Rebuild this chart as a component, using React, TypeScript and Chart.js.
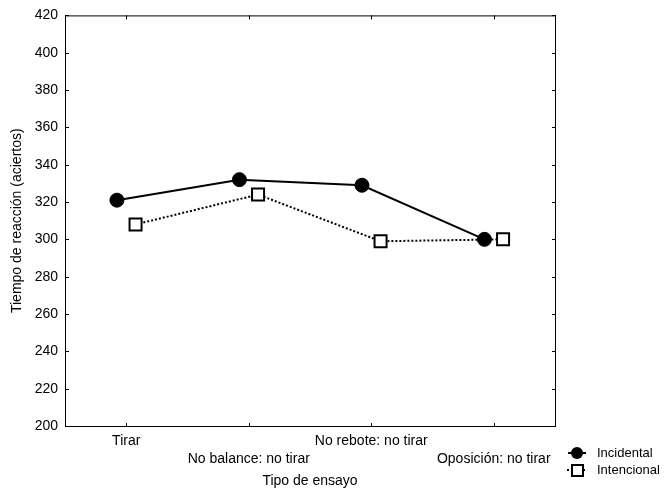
import React, { useEffect, useRef } from "react";
import { Chart, registerables } from "chart.js";

Chart.register(...registerables);

const CATEGORIES = ["Tirar", "No balance: no tirar", "No rebote: no tirar", "Oposición: no tirar"];
const INCIDENTAL = [321, 332, 329, 300];
const INTENCIONAL = [308, 324, 299, 300];
const Y_MIN = 200;
const Y_MAX = 420;
const Y_STEP = 20;
const SERIES_NAMES = ["Incidental", "Intencional"];
const X_TITLE = "Tipo de ensayo";
const Y_TITLE = "Tiempo de reacción (aciertos)";
const DODGE = 0.076;

const FONT_FAMILY = '"Liberation Sans", Arial, Helvetica, sans-serif';
const INK = "#000";

const boxPlugin = {
  id: "boxTicks",
  beforeDatasetsDraw(chart: any) {
    const { ctx, chartArea: a, scales } = chart;
    ctx.save();
    ctx.strokeStyle = INK;
    ctx.lineWidth = 1;
    ctx.strokeRect(a.left + 0.5, a.top + 0.5, a.right - a.left, a.bottom - a.top);
    const TL = 4;
    ctx.beginPath();
    scales.y.ticks.forEach((t: any) => {
      const y = Math.round(scales.y.getPixelForValue(t.value)) + 0.5;
      ctx.moveTo(a.left, y);
      ctx.lineTo(a.left + TL, y);
      ctx.moveTo(a.right + 1, y);
      ctx.lineTo(a.right + 1 - TL, y);
    });
    scales.x.ticks.forEach((t: any) => {
      const x = Math.round(scales.x.getPixelForValue(t.value)) + 0.5;
      ctx.moveTo(x, a.bottom + 1);
      ctx.lineTo(x, a.bottom + 1 - TL);
      ctx.moveTo(x, a.top);
      ctx.lineTo(x, a.top + TL);
    });
    ctx.stroke();
    ctx.restore();
  },
  afterDraw(chart: any) {
    const { ctx, chartArea: a } = chart;
    ctx.save();
    const mx = a.right + 22;
    const y1 = a.bottom + 27;
    const y2 = a.bottom + 44;
    const tx = a.right + 42;
    // Incidental
    ctx.strokeStyle = INK;
    ctx.lineWidth = 2;
    ctx.beginPath();
    ctx.moveTo(mx - 9, y1);
    ctx.lineTo(mx + 9, y1);
    ctx.stroke();
    ctx.fillStyle = INK;
    ctx.beginPath();
    ctx.arc(mx, y1, 6, 0, Math.PI * 2);
    ctx.fill();
    // Intencional
    ctx.setLineDash([2, 2]);
    ctx.beginPath();
    ctx.moveTo(mx - 10, y2);
    ctx.lineTo(mx + 10, y2);
    ctx.stroke();
    ctx.setLineDash([]);
    ctx.fillStyle = "#fff";
    ctx.fillRect(mx - 5, y2 - 5, 11, 11);
    ctx.strokeRect(mx - 5, y2 - 5, 11, 11);
    ctx.fillStyle = INK;
    ctx.font = `13px ${FONT_FAMILY}`;
    ctx.textBaseline = "middle";
    ctx.textAlign = "left";
    ctx.fillText(SERIES_NAMES[0], tx, y1);
    ctx.fillText(SERIES_NAMES[1], tx, y2);
    ctx.restore();
  },
};

export default function App() {
  const ref = useRef<HTMLCanvasElement | null>(null);

  useEffect(() => {
    document.body.style.margin = "0";
    const canvas = ref.current;
    if (!canvas) return;
    const chart = new Chart(canvas, {
      type: "line",
      data: {
        datasets: [
          {
            label: SERIES_NAMES[0],
            data: INCIDENTAL.map((v, i) => ({ x: i + 1 - DODGE, y: v })),
            borderColor: INK,
            backgroundColor: INK,
            borderWidth: 2,
            pointStyle: "circle",
            pointRadius: 7,
            pointBackgroundColor: INK,
            pointBorderColor: INK,
            pointBorderWidth: 1,
            tension: 0,
            order: 1,
          },
          {
            label: SERIES_NAMES[1],
            data: INTENCIONAL.map((v, i) => ({ x: i + 1 + DODGE, y: v })),
            borderColor: INK,
            backgroundColor: "#fff",
            borderWidth: 2,
            borderDash: [2, 2],
            pointStyle: "rect",
            pointRadius: 8.5,
            pointBackgroundColor: "#fff",
            pointBorderColor: INK,
            pointBorderWidth: 2,
            tension: 0,
            order: 0,
          },
        ],
      },
      options: {
        responsive: false,
        animation: false,
        devicePixelRatio: 1,
        layout: { padding: { top: 14, right: 109, left: 0, bottom: 0 } },
        plugins: {
          legend: { display: false },
          tooltip: { enabled: false },
        },
        scales: {
          x: {
            type: "linear",
            min: 0.5,
            max: CATEGORIES.length + 0.5,
            grid: { display: false, drawTicks: false },
            border: { display: false },
            afterBuildTicks: (scale: any) => {
              scale.ticks = CATEGORIES.map((_, i) => ({ value: i + 1 }));
            },
            afterFit: (scale: any) => {
              scale.height = 67;
            },
            ticks: {
              autoSkip: false,
              maxRotation: 0,
              minRotation: 0,
              padding: 6,
              color: INK,
              font: { family: FONT_FAMILY, size: 14, lineHeight: "18px" },
              callback: (value: any, index: number) => {
                const label = CATEGORIES[Math.round(Number(value)) - 1] ?? "";
                return index % 2 === 0 ? [label, ""] : ["", label];
              },
            },
            title: {
              display: true,
              text: X_TITLE,
              color: INK,
              font: { family: FONT_FAMILY, size: 14 },
              padding: { top: 0, bottom: 3 },
            },
          },
          y: {
            min: Y_MIN,
            max: Y_MAX,
            grid: { display: false, drawTicks: false },
            border: { display: false },
            afterFit: (scale: any) => {
              scale.width = 65;
            },
            ticks: {
              stepSize: Y_STEP,
              padding: 7,
              color: INK,
              font: { family: FONT_FAMILY, size: 14 },
            },
            title: {
              display: true,
              text: Y_TITLE,
              color: INK,
              font: { family: FONT_FAMILY, size: 14 },
              padding: { top: 9, bottom: 0 },
            },
          },
        },
      },
      plugins: [boxPlugin],
    } as any);
    return () => chart.destroy();
  }, []);

  return (
    <div style={{ width: 664, height: 493, background: "#fff" }}>
      <canvas ref={ref} width={664} height={493} style={{ display: "block" }} />
    </div>
  );
}
